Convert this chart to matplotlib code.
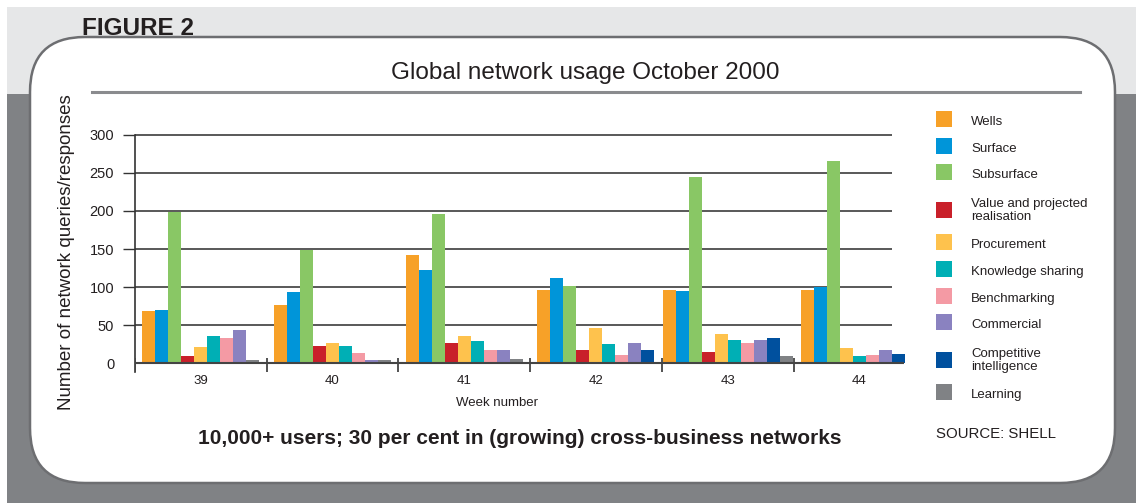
import numpy as np
import matplotlib.pyplot as plt
from matplotlib.patches import Rectangle, FancyBboxPatch

plt.rcParams['font.family'] = ['Liberation Sans', 'DejaVu Sans']

# Chart data
weeks = ['39', '40', '41', '42', '43', '44']
series = ['Wells', 'Surface', 'Subsurface', 'Value and projected\nrealisation',
          'Procurement', 'Knowledge sharing', 'Benchmarking', 'Commercial',
          'Competitive\nintelligence', 'Learning']
colors = ['#f7a128', '#0095d9', '#89c765', '#c9202a', '#fec24d',
          '#00afb5', '#f49aa4', '#8a82c0', '#00509e', '#808285']

wells = [69, 77, 142, 96, 96, 96]
surface = [70, 94, 122, 112, 95, 100]
subsurface = [199, 149, 196, 101, 245, 265]
value_realisation = [10, 23, 27, 18, 15, 0]
procurement = [21, 27, 36, 46, 39, 20]
knowledge_sharing = [36, 23, 29, 25, 31, 9]
benchmarking = [33, 14, 18, 11, 27, 11]
commercial = [44, 4, 18, 27, 31, 17]
competitive = [0, 0, 0, 18, 33, 12]
learning = [4, 4, 6, 0, 10, 0]

yticks = [0, 50, 100, 150, 200, 250, 300]

data = [wells, surface, subsurface, value_realisation, procurement,
        knowledge_sharing, benchmarking, commercial, competitive, learning]

W, H = 1136, 503
fig = plt.figure(figsize=(W / 100, H / 100), dpi=100)

# Background: page colours, rounded panel, header line
bg = fig.add_axes([0, 0, 1, 1], zorder=0)
bg.set_xlim(0, W)
bg.set_ylim(H, 0)
bg.axis('off')
bg.add_patch(Rectangle((0, 0), W, H, color='white'))
bg.add_patch(Rectangle((7, 7), W - 7, 87, color='#e6e7e8', lw=0))
bg.add_patch(Rectangle((7, 94), W - 7, H - 94, color='#808285', lw=0))
bg.add_patch(FancyBboxPatch((30, 37), 1085, 446,
                            boxstyle='round,pad=0,rounding_size=55',
                            fc='white', ec='#6d6e71', lw=1.8))
bg.plot([92, 1080], [92, 92], color='#8a8b8e', lw=2.2)

bg.text(82, 35, 'FIGURE 2', fontsize=17.5, fontweight='bold',
        color='#231f20', va='baseline')
bg.text(585, 73, 'Global network usage October 2000', fontsize=17.5,
        color='#231f20', ha='center', va='center')
bg.text(67, 252, 'Number of network queries/responses', fontsize=13.5,
        color='#231f20', rotation=90, ha='center', va='center')
bg.text(497, 403, 'Week number', fontsize=9.5, color='#231f20',
        ha='center', va='center')
bg.text(520, 438, '10,000+ users; 30 per cent in (growing) cross-business networks',
        fontsize=15, fontweight='bold', color='#231f20', ha='center', va='center')
bg.text(936, 434, 'SOURCE: SHELL', fontsize=10.8, color='#231f20', va='center')

# Legend, hand laid out like the original
y = 122
for name, c in zip(series, colors):
    lines = name.count('\n') + 1
    y += 8.3 * (lines - 1)
    sq = y - 3 if lines == 1 else y
    bg.add_patch(Rectangle((936, sq - 8), 16, 16, color=c, lw=0))
    bg.text(971, y, name, fontsize=9.5, color='#231f20', va='center',
            linespacing=1.2)
    y += 26.7 + 8.3 * (lines - 1)

# Main chart
ax = fig.add_axes([135 / W, 1 - 372 / H, (904 - 135) / W, (372 - 134.7) / H],
                  zorder=1)
ax.set_facecolor('none')
ax.set_xlim(-0.5, 5.339)
ax.set_ylim(-11.4, 300)

# bars with a value sit side by side; a group is never laid out narrower than nine
w = 0.0987
for i in range(len(weeks)):
    vals = [s[i] for s in data]
    idx = [j for j, v in enumerate(vals) if v > 0]
    x0 = i - max(len(idx), 9) * w / 2
    for k, j in enumerate(idx):
        ax.bar(x0 + (k + 0.5) * w, vals[j], w, color=colors[j], lw=0,
               zorder=3, clip_on=False)

ax.hlines(yticks[1:], -0.5, 5.248, colors='#3c3c3c', lw=1.2, zorder=2,
          clip_on=False)
ax.axhline(0, color='#444444', lw=1.5, zorder=4)
ax.vlines(np.arange(len(weeks)) - 0.5, -11.4, 7, colors='#444444', lw=1.3,
          zorder=4)

for s in ['top', 'right', 'bottom']:
    ax.spines[s].set_visible(False)
ax.spines['left'].set_color('#333333')
ax.spines['left'].set_linewidth(1.2)

ax.set_yticks(yticks)
ax.tick_params(axis='y', length=9, width=1, color='#333333', labelsize=10.5,
               pad=6, labelcolor='#231f20')
ax.yaxis.get_major_ticks()[0].tick1line.set_visible(False)
ax.set_xticks(range(len(weeks)))
ax.set_xticklabels(weeks)
ax.tick_params(axis='x', length=0, labelsize=9.5, pad=2, labelcolor='#231f20')

fig.savefig('out.png', dpi=100)
